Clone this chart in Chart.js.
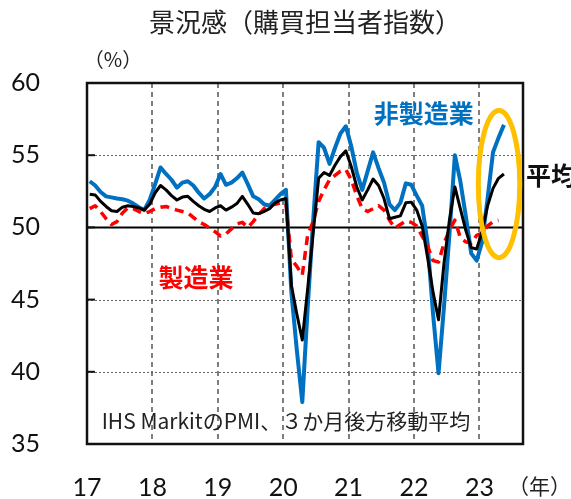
<!DOCTYPE html>
<html>
<head>
<meta charset="utf-8">
<script src="https://cdn.jsdelivr.net/npm/chart.js@4/dist/chart.umd.min.js"></script>
<style>
  html, body { margin: 0; padding: 0; background: #fff; }
  #wrap { width: 571px; height: 499px; position: relative; }
</style>
</head>
<body>
<div id="wrap"><canvas id="pmi"></canvas></div>
<script>
// monthly, Jan 2017 .. May 2023 (3-month trailing average)
const yearLabels = ['17', '18', '19', '20', '21', '22', '23'];
const yTicks = [35, 40, 45, 50, 55, 60];

const nonManufacturing = [
  53.2, 52.9, 52.45, 52.15, 52.08, 52.0, 51.95, 51.85, 51.65, 51.4, 51.2, 51.9,
  53.0, 54.15, 53.7, 53.3, 52.75, 53.1, 53.2, 52.9, 52.4, 52.0, 52.3, 52.8,
  53.7, 52.95, 53.1, 53.4, 53.8, 53.0, 52.15, 51.95, 51.6, 51.5, 51.9, 52.3,
  52.6, 45.5, 41.5, 37.9, 44.5, 50.5, 55.9, 55.5, 54.4, 55.5, 56.5, 57.0,
  55.6, 53.8, 52.6, 53.9, 55.2, 54.1, 53.1, 51.6, 51.2, 51.7, 53.05, 52.95,
  52.2, 51.5, 48.9, 44.0, 39.9, 44.5, 49.5, 55.0, 53.2, 50.8, 48.2, 47.7,
  49.0, 52.0, 55.2, 56.2, 57.1
];
const average = [
  52.3, 52.25, 51.8, 51.45, 51.15, 51.1, 51.4, 51.5, 51.45, 51.35, 51.2, 51.6,
  52.4, 52.9, 52.6, 52.2, 51.9, 52.1, 52.15, 51.8, 51.5, 51.25, 51.1, 51.35,
  51.5, 51.2, 51.4, 51.65, 52.15, 51.6, 51.0, 50.95, 51.1, 51.3, 51.7, 51.9,
  52.0, 46.0, 44.0, 42.2, 45.8, 49.6, 53.4, 53.8, 53.6, 54.3, 54.9, 55.3,
  54.2, 52.8, 51.9, 52.6, 53.35, 52.9, 52.0, 50.6, 50.7, 50.8, 51.7, 51.75,
  51.2, 50.1, 47.9, 45.5, 43.6, 47.5, 50.5, 52.8, 51.3, 49.8, 48.6, 48.5,
  49.7, 51.5, 52.7, 53.4, 53.7
];
const manufacturing = [
  51.3, 51.5, 51.1, 50.6, 50.2, 50.4, 51.0, 51.35, 51.3, 51.1, 50.95, 51.1,
  51.3, 51.4, 51.45, 51.3, 51.2, 51.1, 51.0, 50.7, 50.4, 50.2, 49.95, 49.7,
  49.4, 49.55, 49.9, 50.25, 50.35, 50.0, 50.4, 50.9, 51.3, 51.5, 51.6, 51.7,
  51.6, 47.8, 47.3, 46.7, 49.5, 50.4, 51.8, 52.6, 53.3, 53.6, 53.9, 54.0,
  53.3, 52.2, 51.3, 51.1, 51.3, 51.5, 51.2, 50.5, 49.95, 50.2, 50.45, 50.35,
  50.1, 49.4, 48.7, 47.7, 47.6, 48.9, 49.8, 50.5, 49.3, 49.0, 48.9, 49.45,
  49.6, 50.1, 50.4, 50.5, null
];

const jp = '"Noto Sans CJK JP", "Noto Sans", sans-serif';
const num = 'Lato, "Open Sans", sans-serif';

function toPoints(arr) {
  return arr.map((v, i) => ({ x: i + 0.5, y: v }));
}

const decorations = {
  id: 'decorations',
  beforeDatasetsDraw(chart) {
    const { ctx, chartArea: a, scales: { x, y } } = chart;
    ctx.save();
    // dotted horizontal grid
    ctx.strokeStyle = '#666';
    ctx.lineWidth = 1;
    ctx.setLineDash([2, 2]);
    yTicks.forEach(v => {
      if (v === 35 || v === 60 || v === 50) return;
      const py = Math.round(y.getPixelForValue(v)) + 0.5;
      ctx.beginPath(); ctx.moveTo(a.left, py); ctx.lineTo(a.right, py); ctx.stroke();
    });
    // dashed year lines
    ctx.strokeStyle = '#555';
    ctx.lineWidth = 1.5;
    ctx.setLineDash([5, 4]);
    for (let k = 1; k < yearLabels.length; k++) {
      const px = Math.round(x.getPixelForValue(k * 12));
      ctx.beginPath(); ctx.moveTo(px, a.top); ctx.lineTo(px, a.bottom); ctx.stroke();
    }
    // 50 line
    ctx.setLineDash([]);
    ctx.strokeStyle = '#000';
    ctx.lineWidth = 2;
    const p50 = y.getPixelForValue(50);
    ctx.beginPath(); ctx.moveTo(a.left, p50); ctx.lineTo(a.right, p50); ctx.stroke();
    ctx.restore();
  },
  afterDraw(chart) {
    const { ctx, chartArea: a, scales: { x, y } } = chart;
    ctx.save();
    // frame + inner ticks
    ctx.strokeStyle = '#111';
    ctx.lineWidth = 2.5;
    ctx.strokeRect(a.left, a.top, a.right - a.left, a.bottom - a.top);
    ctx.lineWidth = 2;
    yTicks.forEach(v => {
      const py = y.getPixelForValue(v);
      ctx.beginPath(); ctx.moveTo(a.left, py); ctx.lineTo(a.left + 8, py); ctx.stroke();
    });

    // highlight ellipse
    ctx.strokeStyle = '#FFC000';
    ctx.lineWidth = 5;
    const cx = x.getPixelForValue(75.6), cy = y.getPixelForValue(53.0);
    const rx = x.getPixelForValue(79.4) - cx, ry = y.getPixelForValue(47.9) - cy;
    ctx.beginPath(); ctx.ellipse(cx, cy, rx, ry, 0, 0, Math.PI * 2); ctx.stroke();

    // text
    ctx.textBaseline = 'middle';
    ctx.fillStyle = '#222';
    ctx.textAlign = 'center';
    ctx.font = '26px ' + jp;
    ctx.fillText('景況感（購買担当者指数）', 305, 22);
    ctx.font = '20px ' + jp;
    ctx.fillText('（%）', 113, 59);
    ctx.textAlign = 'left';
    ctx.font = '21px ' + jp;
    ctx.fillText('（年）', 508, 486);

    ctx.font = 'bold 25px ' + jp;
    ctx.textAlign = 'center';
    ctx.fillStyle = '#0070C0';
    ctx.fillText('非製造業', x.getPixelForValue(61.8), y.getPixelForValue(57.9));
    ctx.fillStyle = '#FF0000';
    ctx.fillText('製造業', x.getPixelForValue(20.0), y.getPixelForValue(46.5));
    ctx.fillStyle = '#111';
    ctx.textAlign = 'left';
    ctx.fillText('平均', a.right + 3, y.getPixelForValue(53.6));

    ctx.font = '21px ' + jp;
    ctx.fillStyle = '#222';
    ctx.fillText('IHS MarkitのPMI、３か月後方移動平均', x.getPixelForValue(2.7), y.getPixelForValue(36.6));
    ctx.restore();
  }
};

new Chart(document.getElementById('pmi'), {
  type: 'line',
  data: {
    datasets: [
      {
        label: '非製造業',
        data: toPoints(nonManufacturing),
        borderColor: '#0070C0',
        borderWidth: 4,
        order: 3
      },
      {
        label: '製造業',
        data: toPoints(manufacturing),
        borderColor: '#FF0000',
        borderWidth: 3.5,
        borderDash: [9, 6],
        order: 2
      },
      {
        label: '平均',
        data: toPoints(average),
        borderColor: '#000',
        borderWidth: 3,
        order: 1
      }
    ]
  },
  options: {
    responsive: true,
    maintainAspectRatio: false,
    animation: false,
    elements: { point: { radius: 0 }, line: { tension: 0, borderJoinStyle: 'round' } },
    layout: { padding: { top: 83, right: 48, left: 0, bottom: 0 } },
    plugins: { legend: { display: false }, tooltip: { enabled: false } },
    scales: {
      x: {
        type: 'linear',
        min: 0,
        max: 80,
        afterFit(s) { s.height = 55; },
        afterBuildTicks(s) { s.ticks = yearLabels.map((_, k) => ({ value: k * 12 })); },
        grid: { display: false },
        border: { display: false },
        ticks: {
          autoSkip: false,
          maxRotation: 0,
          padding: 21,
          color: '#111',
          font: { family: num, size: 25 },
          callback: v => yearLabels[v / 12]
        }
      },
      y: {
        min: 35,
        max: 60,
        afterFit(s) { s.width = 87; },
        afterBuildTicks(s) { s.ticks = yTicks.map(v => ({ value: v })); },
        grid: { display: false },
        border: { display: false },
        ticks: {
          padding: 39,
          color: '#111',
          font: { family: num, size: 25 }
        }
      }
    }
  },
  plugins: [decorations]
});
</script>
</body>
</html>
